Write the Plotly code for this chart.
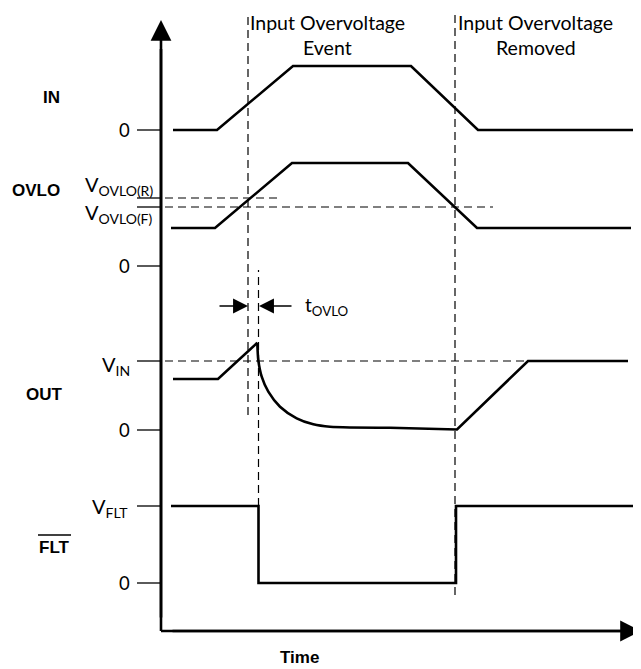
import plotly.graph_objects as go

# ---------------- data (time in arbitrary units, levels relative to each channel's 0) ----------
in_t = [1.2, 5.6, 13.2, 25.0, 31.7, 47.6]
in_v = [0.0, 0.0, 6.4, 6.4, 0.0, 0.0]

ovlo_t = [1.0, 5.4, 13.1, 24.7, 31.6, 47.0]
ovlo_v = [3.8, 3.8, 10.3, 10.3, 3.8, 3.8]
vovlo_r = 6.8
vovlo_f = 5.9

out_t = [1.2, 5.7, 9.63, 9.73, 10.07, 10.73, 11.9, 13.57, 15.23, 16.9, 22.9, 29.6, 36.7, 46.7]
out_v = [5.1, 5.1, 8.73, 7.0, 5.33, 3.83, 2.33, 1.17, 0.57, 0.33, 0.23, 0.05, 6.9, 6.9]
out_decay = (2, 10)   # indices of the capacitive-discharge section (peak .. settled)
v_in = 6.9

flt_t = [1.0, 9.75, 9.75, 29.5, 29.5, 48.0]
flt_v = [7.7, 7.7, 0.0, 0.0, 7.7, 7.7]
v_flt = 7.7

event_t = 8.7       # input overvoltage event
tovlo_t = 9.75      # after OVLO delay
removed_t = 29.4    # input overvoltage removed

channel_names = ["IN", "OVLO", "OUT", "FLT"]

# ---------------- layout constants ----------------
W, H = 641, 669
X0 = -15.3           # left edge (time units); page body adds an 8px offset
X1 = X0 + W / 10
Y0 = -0.8
Y1 = Y0 + H / 10
base = {"IN": 53.9, "OVLO": 40.3, "OUT": 23.9, "FLT": 8.6}
TICK_L = -2.4
LBL_X = -2.9
FONT = "Lato, 'Open Sans', sans-serif"
BFONT = "'Liberation Sans', Arial, sans-serif"

fig = go.Figure()

def sig(t, v, ch, shape="linear"):
    fig.add_trace(go.Scatter(x=t, y=[base[ch] + a for a in v], mode="lines",
                             line=dict(color="black", width=2.6, shape=shape, smoothing=0.7),
                             hoverinfo="skip", showlegend=False))

sig(in_t, in_v, "IN")
sig(ovlo_t, ovlo_v, "OVLO")
a, b = out_decay
sig(out_t[:a + 1], out_v[:a + 1], "OUT")
sig(out_t[a:b + 1], out_v[a:b + 1], "OUT", shape="spline")
sig(out_t[b:], out_v[b:], "OUT")
sig(flt_t, flt_v, "FLT")

shapes = []
dash = dict(color="black", width=1.2, dash="8px,5px")
tick = dict(color="black", width=1.3)

# ticks
for ch, lv in [("IN", 0), ("OVLO", vovlo_r), ("OVLO", vovlo_f), ("OVLO", 0),
               ("OUT", v_in), ("OUT", 0), ("FLT", v_flt), ("FLT", 0)]:
    shapes.append(dict(type="line", x0=TICK_L, x1=0, y0=base[ch] + lv, y1=base[ch] + lv, line=tick))

# horizontal dashed references
shapes.append(dict(type="line", x0=0.4, x1=11.9, y0=base["OVLO"] + vovlo_r, y1=base["OVLO"] + vovlo_r, line=dash))
shapes.append(dict(type="line", x0=0.4, x1=33.2, y0=base["OVLO"] + vovlo_f, y1=base["OVLO"] + vovlo_f, line=dash))
shapes.append(dict(type="line", x0=0.4, x1=46.7, y0=base["OUT"] + v_in, y1=base["OUT"] + v_in, line=dash))

# vertical dashed markers
shapes.append(dict(type="line", x0=event_t, x1=event_t, y0=25.4, y1=65.4, line=dash))
shapes.append(dict(type="line", x0=tovlo_t, x1=tovlo_t, y0=base["FLT"] + v_flt, y1=39.9, line=dash))
shapes.append(dict(type="line", x0=removed_t, x1=removed_t, y0=7.4, y1=65.4, line=dash))

# axes lines (without arrowheads)
shapes.append(dict(type="line", x0=0, x1=0, y0=3.8, y1=62.0, line=dict(color="black", width=2.6)))
shapes.append(dict(type="line", x0=0, x1=46.0, y0=3.8, y1=3.8, line=dict(color="black", width=2.6)))

# FLT overline
shapes.append(dict(type="line", x0=-12.3, x1=-9.0, y0=13.4, y1=13.4, line=dict(color="black", width=1.4)))

ann = []
def arrow(x, y, ax, ay, size=1.0, width=1.3):
    ann.append(dict(x=x, y=y, ax=ax, ay=ay, xref="x", yref="y", axref="x", ayref="y",
                    text="", showarrow=True, arrowhead=2, arrowsize=size, arrowwidth=width,
                    arrowcolor="black", standoff=0, startstandoff=0))

# axis arrow heads
arrow(0, 64.9, 0, 5.0, size=1.6, width=2.6)
arrow(48.0, 3.8, 1.0, 3.8, size=1.6, width=2.6)
# tOVLO arrows
arrow(event_t, 36.3, 5.7, 36.3, size=2.3, width=1.3)
arrow(tovlo_t + 0.05, 36.3, 13.2, 36.3, size=2.3, width=1.3)

def text(x, y, s, size=18, xanchor="center", font=FONT):
    ann.append(dict(x=x, y=y, xref="x", yref="y", text=s, showarrow=False, xanchor=xanchor,
                    yanchor="middle", font=dict(family=font, size=size, color="black")))

# channel names (bold)
text(-11.0, 57.2, "<b>IN</b>", 17, font=BFONT)
text(-12.55, 47.9, "<b>OVLO</b>", 17, font=BFONT)
text(-11.65, 27.5, "<b>OUT</b>", 17, font=BFONT)
text(-10.65, 12.2, "<b>FLT</b>", 17, font=BFONT)
text(13.8, 1.2, "<b>Time</b>", 17, font=BFONT)

# level labels
text(LBL_X, base["IN"], "0", 18.5, "right")
text(LBL_X, base["OVLO"], "0", 18.5, "right")
text(LBL_X, base["OUT"], "0", 18.5, "right")
text(LBL_X, base["FLT"], "0", 18.5, "right")
text(-0.6, 48.4, "V<sub>OVLO(R)</sub>", 20, "right")
text(-0.6, 45.6, "V<sub>OVLO(F)</sub>", 20, "right")
text(LBL_X, 30.4, "V<sub>IN</sub>", 20, "right")
text(-3.1, 16.2, "V<sub>FLT</sub>", 20, "right")

# event labels
text(16.65, 64.7, "Input Overvoltage", 19.5)
text(16.65, 62.2, "Event", 19.5)
text(37.45, 64.7, "Input Overvoltage", 19.5)
text(37.45, 62.2, "Removed", 19.5)
text(14.2, 36.3, "t<sub>OVLO</sub>", 19, "left")

fig.update_layout(
    width=W, height=H, autosize=False,
    margin=dict(l=0, r=0, t=0, b=0),
    paper_bgcolor="white", plot_bgcolor="white",
    xaxis=dict(range=[X0, X1], visible=False, fixedrange=True),
    yaxis=dict(range=[Y0, Y1], visible=False, fixedrange=True),
    shapes=shapes, annotations=ann, showlegend=False,
)

fig.write_html("out.html")
